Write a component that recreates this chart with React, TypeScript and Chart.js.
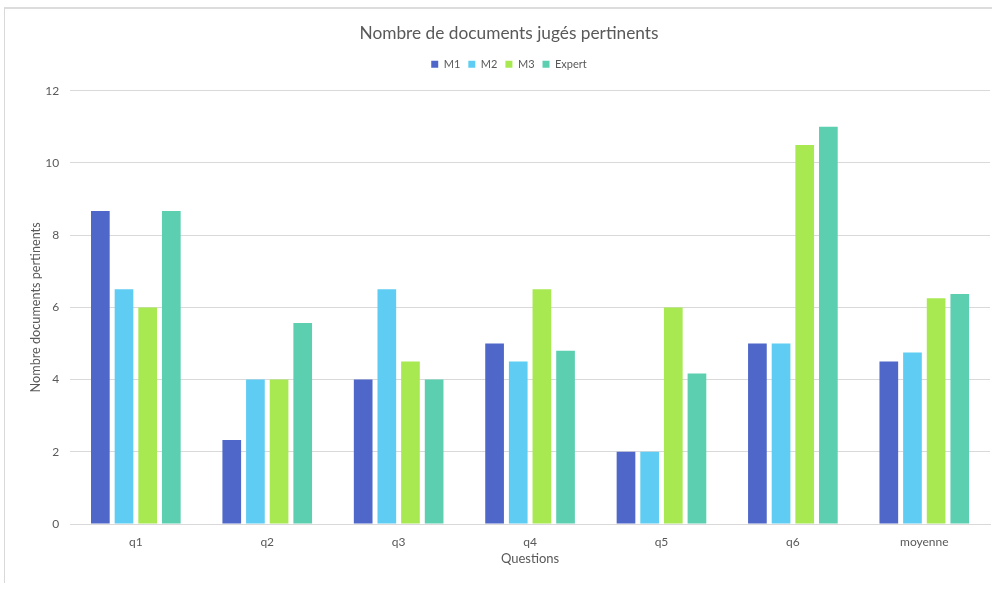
import React, { useEffect, useRef } from "react";
import { Chart, registerables } from "chart.js";

Chart.register(...registerables);

const categories = ["q1", "q2", "q3", "q4", "q5", "q6", "moyenne"];
const m1 = [8.67, 2.33, 4, 5, 2, 5, 4.5];
const m2 = [6.5, 4, 6.5, 4.5, 2, 5, 4.75];
const m3 = [6, 4, 4.5, 6.5, 6, 10.5, 6.25];
const expert = [8.67, 5.57, 4, 4.8, 4.17, 11, 6.37];
const seriesNames = ["M1", "M2", "M3", "Expert"];
const colors = ["#4F67C9", "#5FCDF3", "#A8E952", "#5DCFB1"];

const FONT = "Lato, 'Open Sans', sans-serif";
const TEXT = "#595959";
const GRID = "#d9d9d9";

export default function App() {
  const ref = useRef<HTMLCanvasElement | null>(null);

  useEffect(() => {
    if (!ref.current) return;
    const values = [m1, m2, m3, expert];
    const legendSpacer = {
      id: "legendSpacer",
      beforeInit(chart: any) {
        const orig = chart.legend.fit;
        chart.legend.fit = function () {
          orig.bind(chart.legend)();
          this.height += 11;
        };
      },
    };
    const chart = new Chart(ref.current, {
      type: "bar",
      data: {
        labels: categories,
        datasets: seriesNames.map((n, i) => ({
          label: n,
          data: values[i],
          backgroundColor: colors[i],
          categoryPercentage: 0.72,
          barPercentage: 0.79,
        })),
      },
      plugins: [legendSpacer],
      options: {
        animation: false,
        responsive: false,
        maintainAspectRatio: false,
        layout: { padding: { top: 9, left: 28, right: 2, bottom: 47 } },
        plugins: {
          title: {
            display: true,
            text: "Nombre de documents jugés pertinents",
            color: TEXT,
            font: { family: FONT, size: 17.3, weight: "normal" },
            padding: { top: 14.5, bottom: 6.5 },
          },
          legend: {
            position: "top",
            labels: {
              color: TEXT,
              font: { family: FONT, size: 11 },
              boxWidth: 7,
              boxHeight: 7,
              padding: 8,
            },
          },
          tooltip: { enabled: false },
        },
        scales: {
          x: {
            grid: { display: false, drawTicks: false },
            border: { display: true, color: GRID, width: 1 },
            ticks: { color: TEXT, font: { family: FONT, size: 12 }, padding: 11 },
            title: {
              display: true,
              text: "Questions",
              color: TEXT,
              font: { family: FONT, size: 13 },
              padding: { top: -9, bottom: 0 },
            },
          },
          y: {
            min: 0,
            max: 12,
            ticks: { stepSize: 2, color: TEXT, font: { family: FONT, size: 12 }, padding: 11 },
            grid: { color: GRID, drawTicks: false },
            border: { display: false },
            title: {
              display: true,
              text: "Nombre documents pertinents",
              color: TEXT,
              font: { family: FONT, size: 12.67 },
              padding: { top: 0, bottom: -9 },
            },
          },
        },
      },
    });
    return () => chart.destroy();
  }, []);

  return (
    <div style={{ position: "absolute", left: 0, top: 0, width: 992, height: 614, background: "#fff" }}>
      <div style={{ position: "absolute", left: 4, top: 7, width: 988, height: 2, background: "#dcdcdc" }} />
      <div style={{ position: "absolute", left: 4, top: 7, width: 1, height: 576, background: "#d9d9d9" }} />
      <canvas ref={ref} width={992} height={614} style={{ position: "absolute", left: 0, top: 0 }} />
    </div>
  );
}
